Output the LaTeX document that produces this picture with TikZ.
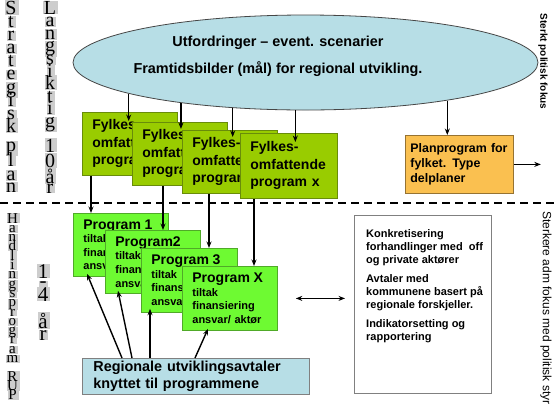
\documentclass[tikz,border=0pt]{standalone}
\usepackage{fontspec}
\setmainfont{Liberation Sans}
\newfontfamily\stackfont{Liberation Serif}
\usetikzlibrary{arrows.meta,calc,shapes.geometric}

\definecolor{ellfill}{RGB}{183,222,230}
\definecolor{ellline}{RGB}{70,70,70}
\definecolor{fylfill}{RGB}{153,204,0}
\definecolor{fylline}{RGB}{105,140,10}
\definecolor{progfill}{RGB}{110,250,50}
\definecolor{progline}{RGB}{80,170,40}
\definecolor{ppfill}{RGB}{250,192,80}
\definecolor{ppline}{RGB}{150,115,50}
\definecolor{boxline}{RGB}{128,128,128}
\definecolor{lettbg}{RGB}{205,205,205}

\newcommand{\lettercolumn}[4]{%
  \foreach \ch/\yy [count=\k] in {#4} {\node[lbg, font=\stackfont\fontsize{#3}{#3}\selectfont] (#1b\k) at (#2,\yy) {\phantom{\ch}};}
  \foreach \ch/\yy [count=\k] in {#4} {\node[ltr, font=\stackfont\fontsize{#3}{#3}\selectfont] (#1l\k) at (#2,\yy) {\ch};}
}

\begin{document}
\begin{tikzpicture}[x=1pt,y=-1pt,
  arr/.style={line width=1.4pt,-{Stealth[length=6.5pt,width=5pt]}},
  dblarr/.style={line width=1.4pt,{Stealth[length=6.5pt,width=5pt]}-{Stealth[length=6.5pt,width=5pt]}},
  fylbox/.style={draw=fylline,fill=fylfill,line width=0.8pt,anchor=north west,align=left,inner xsep=10pt,inner ysep=0pt,text width=75pt,minimum width=95pt,minimum height=63pt,font=\bfseries\fontsize{14}{17.5}\selectfont},
  progbox/.style={draw=progline,fill=progfill,line width=0.8pt,anchor=north west,align=left,inner xsep=10pt,inner ysep=0pt,text width=75pt,minimum width=95pt,minimum height=63pt,font=\bfseries\fontsize{11}{13.6}\selectfont},
  lbg/.style={anchor=base,fill=lettbg,inner xsep=1.2pt,inner ysep=0.4pt,xshift=0.8pt},
  ltr/.style={anchor=base,inner sep=0pt},
  sidetext/.style={rotate=-90,inner sep=0pt}
]
\useasboundingbox (0,0) rectangle (556,405);
\fill[white] (0,0) rectangle (556,405);

% top ellipse
\node[ellipse,draw=ellline,fill=ellfill,line width=0.8pt,minimum width=465pt,minimum height=95pt,inner sep=0pt] (ell) at (305.5,62.5) {};
\node[font=\bfseries\fontsize{14.4}{27}\selectfont,align=center] (elltxt) at (278,56.5)
  {Utfordringer – event. scenarier\\Framtidsbilder (mål) for regional utvikling.};

% county-wide programme boxes
\node[fylbox] (f1) at (82,112) {Fylkes-\\omfattende\\program};
\node[fylbox] (f2) at (132,122) {Fylkes-\\omfattende\\program};
\node[fylbox] (f3) at (182,130) {Fylkes-\\omfattende\\program};
\node[fylbox,text width=77pt,minimum width=97pt,minimum height=65pt] (f4) at (240,133) {Fylkes-\\omfattende\\program x};

% plan programme
\node[draw=ppline,fill=ppfill,line width=0.8pt,anchor=north west,align=left,inner xsep=5pt,inner ysep=0pt,text width=98pt,minimum width=108pt,minimum height=58pt,font=\bfseries\fontsize{12.4}{15}\selectfont] (pp) at (405,135) {Planprogram for\\fylket. Type\\delplaner};

% dashed divider
\coordinate (dashL) at (0,203);
\coordinate (dashR) at (556,203);
\draw[line width=2.2pt,dash pattern=on 8pt off 5pt] (dashL) -- (dashR);

% action programmes
\node[progbox] (p1) at (73,213) {{\fontsize{14}{15}\selectfont Program 1}\\tiltak\\finansiering\\ansvar/ aktør};
\node[progbox] (p2) at (105,230) {{\fontsize{14}{15}\selectfont Program2}\\tiltak\\finansiering\\ansvar/ aktør};
\node[progbox,text width=76pt,minimum width=96pt,minimum height=64pt] (p3) at (141,248) {{\fontsize{14}{15}\selectfont Program 3}\\tiltak\\finansiering\\ansvar/ aktør};
\node[progbox,minimum height=64pt] (px) at (182,266) {{\fontsize{14}{15}\selectfont Program X}\\tiltak\\finansiering\\ansvar/ aktør};

% regional agreements
\node[draw=boxline,fill=ellfill,line width=0.8pt,anchor=north west,align=left,inner xsep=11pt,inner ysep=0pt,text width=205pt,minimum width=227pt,minimum height=36pt,font=\bfseries\fontsize{14.4}{17}\selectfont] (reg) at (82,358) {Regionale utviklingsavtaler\\knyttet til programmene};

% text box
\node[draw=boxline,fill=white,line width=0.8pt,anchor=north west,minimum width=137pt,minimum height=178pt,inner sep=0pt] (tb) at (354,215) {};
\node[anchor=north west,align=left,inner sep=0pt,font=\bfseries\fontsize{11}{13}\selectfont] (tbtxt) at (366,229)
  {Konkretisering\\forhandlinger med~ off\\og private aktører\\[6pt]Avtaler med\\kommunene basert på\\regionale forskjeller.\\[6pt]Indikatorsetting og\\rapportering};

% arrows from the ellipse
\draw[arr] (ell.190) -- ($(ell.190 |- f1.north)+(0,9)$);
\draw[arr] (ell.198) -- ($(ell.198 |- f2.north)+(0,7)$);
\draw[arr] (ell.212) -- ($(ell.212 |- f3.north)+(0,7)$);
\draw[arr] (ell.258) -- ($(ell.258 |- f4.north)+(0,9)$);
\draw[arr] (ell.345) -- (ell.345 |- pp.north);
\draw[arr] (pp.east) -- ([xshift=27pt]pp.east);

% arrows from county programmes to action programmes
\draw[arr] ([xshift=9pt]f1.south west) -- ([xshift=18pt]p1.north west);
\draw[arr] ([xshift=31pt]f2.south west) -- ([xshift=58pt]p2.north west);
\draw[arr] ([xshift=27pt]f3.south west) -- ([xshift=68pt]p3.north west);
\draw[arr] ([xshift=14pt]f4.south west) -- ([xshift=72pt]px.north west);

% arrows from regional agreements
\draw[arr] ([xshift=40pt]reg.north west) -- ([xshift=14pt,yshift=3pt]p1.south west);
\draw[arr] ([xshift=50pt]reg.north west) -- ([xshift=13pt,yshift=3pt]p2.south west);
\draw[arr] ([xshift=68pt]reg.north west) -- ([xshift=9pt,yshift=4pt]p3.south west);
\draw[arr] ([xshift=113pt]reg.north west) -- ([xshift=26pt,yshift=2pt]px.south west);

% double arrow
\draw[dblarr] ([xshift=18pt]px.east) -- ($(px.east -| tb.west)+(-9,0)$);

% left stacked columns
\lettercolumn{sp}{11}{20}{S/14,t/27.2,r/40.4,a/53.5,t/66.7,e/79.9,g/93,i/106.2,s/119.4,k/132.5,p/151,l/166,a/180,n/192}
\lettercolumn{lt}{50}{20}{L/14,a/26.6,n/39.2,g/51.8,s/64.4,i/77,k/89.6,t/102.2,i/114.8,g/127.4,1/152,0/167,å/183,r/193}
\lettercolumn{hp}{12.5}{15}{H/223,a/232.3,n/241.6,d/250.9,l/260.2,i/269.5,n/278.8,g/288.1,s/297.4,p/306.7,r/316,o/325.3,g/334.6,r/343.9,a/353.2,m/362.5,R/381.1,U/390.4,P/399.7}
\lettercolumn{fa}{43}{21}{1/278,-/287,4/301,å/328,r/340}

% right side texts
\node[sidetext,font=\bfseries\fontsize{10}{12}\selectfont] (sterkt) at (543,61.5) {Sterkt politisk fokus};
\node[sidetext,anchor=west,font=\fontsize{12}{14}\selectfont] (sterkere) at (546,211) {Sterkere adm fokus med politisk styr};
\end{tikzpicture}
\end{document}
